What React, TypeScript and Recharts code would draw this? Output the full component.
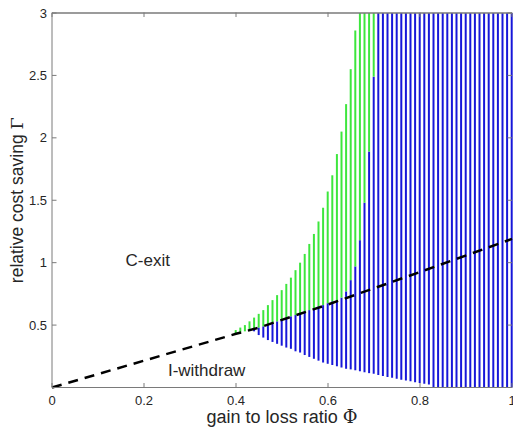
import React from 'react';
import { ComposedChart, Bar, Line, XAxis, YAxis, ReferenceDot } from 'recharts';

// gain to loss ratio, one vertical line every 0.01
const phi = [
  0.40, 0.41, 0.42, 0.43, 0.44, 0.45, 0.46, 0.47, 0.48, 0.49,
  0.50, 0.51, 0.52, 0.53, 0.54, 0.55, 0.56, 0.57, 0.58, 0.59,
  0.60, 0.61, 0.62, 0.63, 0.64, 0.65, 0.66, 0.67, 0.68, 0.69,
  0.70, 0.71, 0.72, 0.73, 0.74, 0.75, 0.76, 0.77, 0.78, 0.79,
  0.80, 0.81, 0.82, 0.83, 0.84, 0.85, 0.86, 0.87, 0.88, 0.89,
  0.90, 0.91, 0.92, 0.93, 0.94, 0.95, 0.96, 0.97, 0.98, 0.99, 1.00,
];

// bottom of each coloured line
const lower = [
  0.43, 0.44, 0.45, 0.46, 0.45, 0.42, 0.40, 0.38, 0.365, 0.35,
  0.335, 0.32, 0.31, 0.29, 0.28, 0.26, 0.245, 0.23, 0.215, 0.20,
  0.19, 0.18, 0.17, 0.16, 0.15, 0.145, 0.138, 0.13, 0.122, 0.115,
  0.11, 0.10, 0.092, 0.085, 0.078, 0.07, 0.063, 0.056, 0.05, 0.043,
  0.037, 0.03, 0.024, 0, 0, 0, 0, 0, 0, 0,
  0, 0, 0, 0, 0, 0, 0, 0, 0, 0, 0,
];

// top of the blue part
const blueTop = [
  0.43, 0.44, 0.45, 0.46, 0.47, 0.48, 0.49, 0.505, 0.52, 0.53,
  0.545, 0.555, 0.57, 0.58, 0.595, 0.61, 0.62, 0.635, 0.65, 0.66,
  0.675, 0.69, 0.70, 0.72, 0.77, 0.86, 0.97, 1.18, 1.48, 1.89,
  2.49, 3, 3, 3, 3, 3, 3, 3, 3, 3,
  3, 3, 3, 3, 3, 3, 3, 3, 3, 3,
  3, 3, 3, 3, 3, 3, 3, 3, 3, 3, 3,
];

// top of the green part
const greenTop = [
  0.46, 0.48, 0.50, 0.53, 0.56, 0.59, 0.62, 0.66, 0.70, 0.74,
  0.78, 0.83, 0.88, 0.94, 1.00, 1.07, 1.15, 1.23, 1.33, 1.44,
  1.57, 1.70, 1.87, 2.05, 2.27, 2.55, 2.86, 3, 3, 3,
  3, 3, 3, 3, 3, 3, 3, 3, 3, 3,
  3, 3, 3, 3, 3, 3, 3, 3, 3, 3,
  3, 3, 3, 3, 3, 3, 3, 3, 3, 3, 3,
];

// dashed boundary
const dashPhi = [0, 0.2, 0.4, 0.45, 0.6, 0.8, 1];
const dashGamma = [0, 0.215, 0.43, 0.48, 0.665, 0.925, 1.19];

// top edge of the axes box
const framePhi = [0, 1];
const frameGamma = [3, 3];

const xTicks = [0, 0.2, 0.4, 0.6, 0.8, 1];
const yTicks = [0.5, 1, 1.5, 2, 2.5, 3];

const BLUE = '#1717d9';
const GREEN = '#3de63d';
const AXIS = '#7a7a7a';
const TEXT = '#262626';
const FONT = '"Liberation Sans", Arial, Helvetica, sans-serif';
const SERIF = '"DejaVu Serif", "Liberation Serif", serif';
const TICK = 4.5;
const PLOT_W = 460;
const PLOT_H = 375;

const rows = phi.map((p, i) => ({
  phi: p,
  base: lower[i],
  blue: blueTop[i] - lower[i],
  green: greenTop[i] - blueTop[i],
}));

const dashData = dashPhi.map((p, i) => ({ phi: p, gamma: dashGamma[i] }));
const frameData = framePhi.map((p, i) => ({ phi: p, edge: frameGamma[i] }));

// inward ticks on bottom and top edges, matlab style
const BottomTick = (props: any) => {
  const { x, y, payload } = props;
  return (
    <g>
      <line x1={x} x2={x} y1={y} y2={y - TICK} stroke={AXIS} />
      <line x1={x} x2={x} y1={y - PLOT_H} y2={y - PLOT_H + TICK} stroke={AXIS} />
      <text x={x} y={y + 17.5} textAnchor="middle" fontSize={13} fill={TEXT} fontFamily={FONT}>
        {String(payload.value)}
      </text>
    </g>
  );
};

// inward ticks on left and right edges
const LeftTick = (props: any) => {
  const { x, y, payload } = props;
  const ax = x + 5;
  return (
    <g>
      <line x1={ax} x2={ax + TICK} y1={y} y2={y} stroke={AXIS} />
      <line x1={ax + PLOT_W} x2={ax + PLOT_W - TICK} y1={y} y2={y} stroke={AXIS} />
      <text x={x} y={y} dy="0.35em" textAnchor="end" fontSize={13} fill={TEXT} fontFamily={FONT}>
        {String(payload.value)}
      </text>
    </g>
  );
};

const XLabel = (props: any) => {
  const { viewBox } = props;
  const cx = viewBox.x + viewBox.width / 2;
  return (
    <text x={cx} y={viewBox.y + 35} textAnchor="middle" fontSize={18} fill={TEXT} fontFamily={FONT}>
      gain to loss ratio <tspan fontFamily={SERIF}>Φ</tspan>
    </text>
  );
};

const YLabel = (props: any) => {
  const { viewBox } = props;
  const cx = 23;
  const cy = viewBox.y + viewBox.height / 2;
  return (
    <text
      x={cx}
      y={cy}
      transform={`rotate(-90 ${cx} ${cy})`}
      textAnchor="middle"
      fontSize={17.5}
      fill={TEXT}
      fontFamily={FONT}
    >
      relative cost saving <tspan fontFamily={SERIF}>Γ</tspan>
    </text>
  );
};

const regionText = (label: string) => (props: any) => (
  <text x={props.cx} y={props.cy} dy="0.35em" textAnchor="start" fontSize={17} fill={TEXT} fontFamily={FONT}>
    {label}
  </text>
);

export default function App() {
  return (
    <div style={{ width: 513, height: 430 }}>
      <style>{'body{margin:0}'}</style>
      <ComposedChart
        width={513}
        height={430}
        data={rows}
        margin={{ top: 13, right: 1, bottom: 0, left: 0 }}
        barSize={2}
      >
        <XAxis
          dataKey="phi"
          type="number"
          domain={[0, 1]}
          ticks={xTicks}
          height={42.5}
          tickSize={0}
          tickMargin={0}
          tickLine={false}
          axisLine={{ stroke: AXIS }}
          tick={<BottomTick />}
          interval={0}
          label={<XLabel />}
        />
        <YAxis
          type="number"
          domain={[0, 3]}
          ticks={yTicks}
          width={52}
          tickSize={0}
          tickMargin={5}
          tickLine={false}
          axisLine={{ stroke: AXIS }}
          tick={<LeftTick />}
          interval={0}
          label={<YLabel />}
        />
        <Bar dataKey="base" stackId="s" fill="none" isAnimationActive={false} />
        <Bar dataKey="blue" stackId="s" fill={BLUE} isAnimationActive={false} />
        <Bar dataKey="green" stackId="s" fill={GREEN} isAnimationActive={false} />
        <Line
          data={frameData}
          dataKey="edge"
          type="linear"
          stroke={AXIS}
          strokeWidth={1.5}
          dot={false}
          activeDot={false}
          isAnimationActive={false}
        />
        <Line
          data={dashData}
          dataKey="gamma"
          type="linear"
          stroke="#000"
          strokeWidth={2.5}
          strokeDasharray="10 7"
          dot={false}
          activeDot={false}
          isAnimationActive={false}
        />
        <ReferenceDot x={0.16} y={1.02} r={0} shape={regionText('C-exit')} />
        <ReferenceDot x={0.252} y={0.14} r={0} shape={regionText('I-withdraw')} />
      </ComposedChart>
    </div>
  );
}
